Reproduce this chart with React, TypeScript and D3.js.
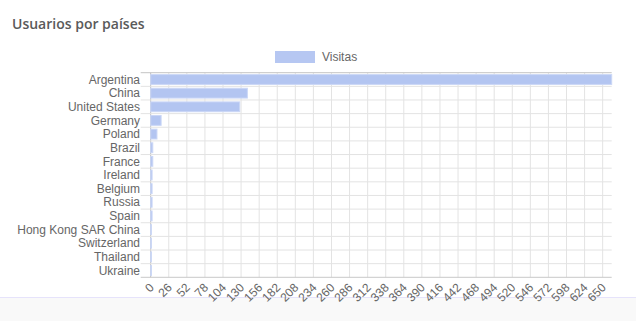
import React from "react";
import * as d3 from "d3";

const categories = [
  "Argentina", "China", "United States", "Germany", "Poland", "Brazil", "France",
  "Ireland", "Belgium", "Russia", "Spain", "Hong Kong SAR China", "Switzerland",
  "Thailand", "Ukraine",
];
const visitas = [663, 139, 128, 15, 9, 3, 3, 2, 2, 2, 2, 1, 1, 1, 1];
const xTicks = d3.range(0, 651, 26);
const seriesName = "Visitas";
const title = "Usuarios por países";

export default function App() {
  const W = 636, H = 321;
  const left = 150.7, right = 611.7, top = 72.7, bottom = 277.3;
  const x = d3.scaleLinear().domain([0, 663]).range([left, right]);
  const y = d3.scaleBand().domain(categories).range([top, bottom]);
  const barH = y.bandwidth() * 0.72;
  const font = "'Liberation Sans', Arial, Helvetica, sans-serif";

  return (
    <div style={{ position: "absolute", left: 0, top: 0, width: W, height: H }}>
      <svg width={W} height={H} style={{ display: "block" }}>
        <rect x={0} y={0} width={W} height={H} fill="#ffffff" />
        <rect x={0} y={298} width={W} height={H - 298} fill="#f9f9f9" />
        <line x1={0} x2={W} y1={297.5} y2={297.5} stroke="#e6e3fb" strokeWidth={1} />
        <text x={12} y={29} fontFamily="'Open Sans', sans-serif" fontWeight={600} fontSize={14} fill="#5a5a5a">
          {title}
        </text>
        {/* legend */}
        <rect x={275} y={51} width={40} height={12} fill="#b6c7f2" />
        <text x={322} y={61} fontFamily={font} fontSize={12} fill="#666">{seriesName}</text>
        {/* vertical gridlines */}
        {xTicks.map((t) => (
          <line key={"vg" + t} x1={x(t)} x2={x(t)} y1={top} y2={bottom}
            stroke={t === 0 ? "#bdbdbd" : "#e3e3e3"} strokeWidth={1} />
        ))}
        {/* horizontal gridlines at band boundaries */}
        {categories.map((c, i) => (
          <line key={"hg" + c} x1={left - 10} x2={right} y1={y(c)!} y2={y(c)!}
            stroke={i === 0 ? "#c4c4c4" : "#e3e3e3"} strokeWidth={1} />
        ))}
        <line x1={left - 10} x2={right} y1={bottom} y2={bottom} stroke="#c8c8c8" strokeWidth={1} />
        {/* bars */}
        {categories.map((c, i) => {
          const yc = y(c)! + y.bandwidth() / 2;
          return (
            <rect key={"b" + c} x={x(0)} y={yc - barH / 2} width={Math.max(0, x(visitas[i]) - x(0))}
              height={barH} fill="#b3c5f1" stroke="#cbd7f6" strokeWidth={1} />
          );
        })}
        {/* y labels */}
        {categories.map((c) => (
          <text key={"yl" + c} x={140} y={y(c)! + y.bandwidth() / 2} dy="0.35em" textAnchor="end"
            fontFamily={font} fontSize={12} fill="#666">{c}</text>
        ))}
        {/* x labels */}
        {xTicks.map((t) => (
          <text key={"xl" + t} transform={`translate(${x(t) + 1},${bottom + 8}) rotate(-45)`}
            textAnchor="end" dy="0.35em" fontFamily={font} fontSize={12} fill="#666">{t}</text>
        ))}
      </svg>
    </div>
  );
}
